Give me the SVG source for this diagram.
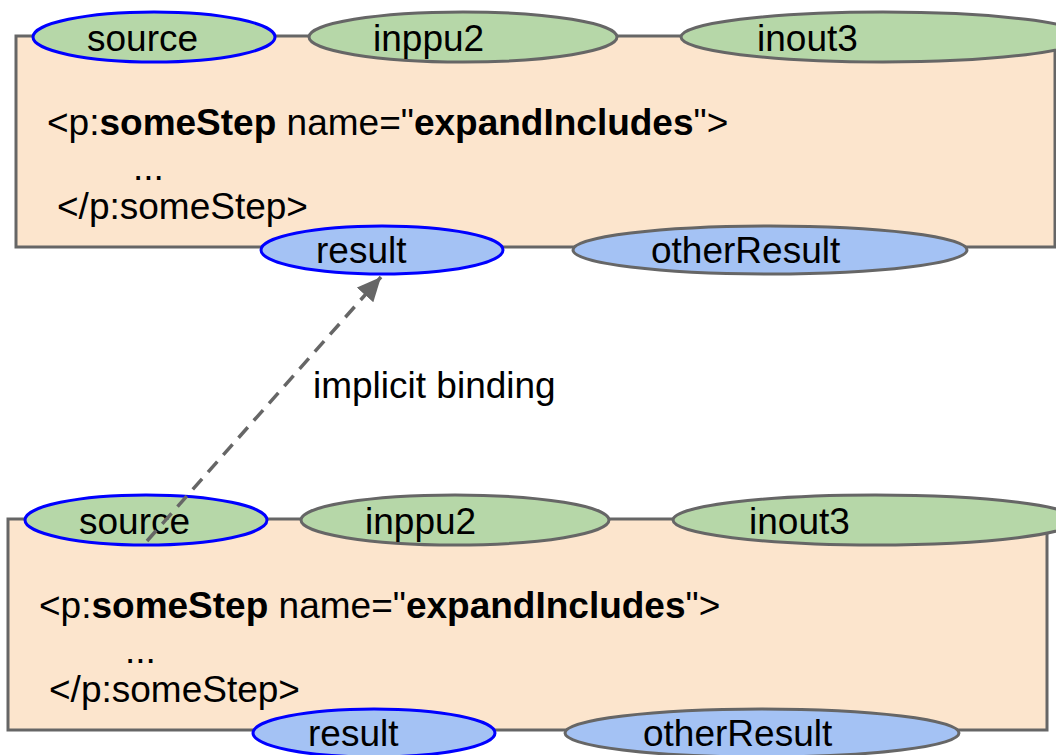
<svg xmlns="http://www.w3.org/2000/svg" width="1056" height="755" viewBox="0 0 1056 755">
<style>
text{font-family:"Liberation Sans",Arial,sans-serif;font-size:37px;fill:#000}
.b{font-weight:bold}
.box{fill:#fce5cd;stroke:#666;stroke-width:3}
.in{fill:#b6d7a8;stroke:#666;stroke-width:3}
.out{fill:#a4c2f4;stroke:#666;stroke-width:3}
.sel{stroke:#0000ff}
.conn{fill:none;stroke:#666;stroke-width:3.5;stroke-dasharray:14 9}
</style>
<defs>
<marker id="ah" markerUnits="userSpaceOnUse" markerWidth="26" markerHeight="24" refX="24" refY="11" orient="auto">
<path d="M0,0 L24,11 L0,22 Z" fill="#666"/>
</marker>
<g id="step">
<rect class="box" x="16" y="36" width="1039" height="211"/>
<ellipse class="in sel" cx="154" cy="37" rx="121" ry="25"/>
<text x="87" y="51">source</text>
<ellipse class="in" cx="463" cy="37" rx="154" ry="25"/>
<text x="373" y="51">inppu2</text>
<ellipse class="in" cx="883" cy="37" rx="202" ry="25"/>
<text x="757" y="51">inout3</text>
<text x="47" y="135">&lt;p:<tspan class="b">someStep</tspan> name="<tspan class="b">expandIncludes</tspan>"&gt;</text>
<text x="133" y="180">...</text>
<text x="57" y="219">&lt;/p:someStep&gt;</text>
<ellipse class="out sel" cx="382" cy="250" rx="121" ry="24"/>
<text x="316" y="263">result</text>
<ellipse class="out" cx="770" cy="250" rx="197" ry="24"/>
<text x="651" y="263">otherResult</text>
</g>
</defs>
<g id="step-top"><use href="#step"/></g>
<g id="step-bottom"><use href="#step" transform="translate(-8,483)"/></g>
<g id="connectors">
<line class="conn" x1="147" y1="541" x2="381" y2="277" marker-end="url(#ah)"/>
<text x="313" y="398">implicit binding</text>
</g>
</svg>
